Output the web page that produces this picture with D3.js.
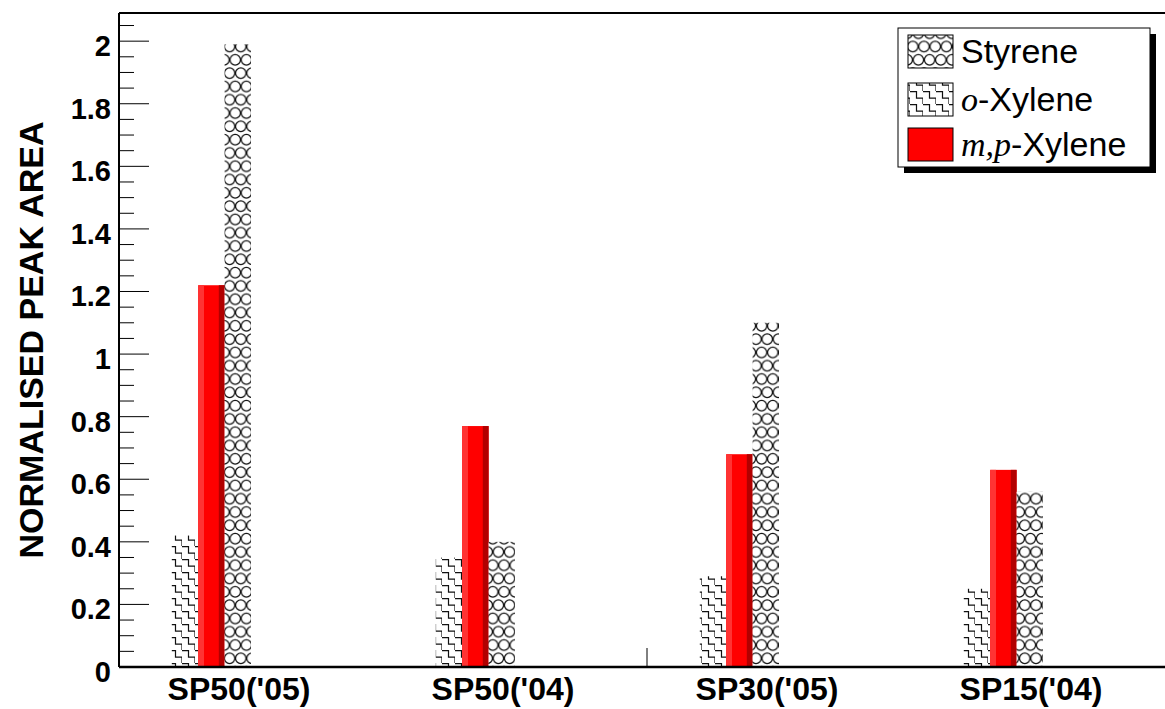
<!DOCTYPE html>
<html><head><meta charset="utf-8">
<script src="https://cdn.jsdelivr.net/npm/d3@7"></script>
<style>body{margin:0;background:#fff}svg{display:block}</style>
</head><body>
<svg id="c" width="1165" height="709"></svg>
<script>
const categories = ["SP50('05)", "SP50('04)", "SP30('05)", "SP15('04)"];
const oXylene  = [0.42, 0.35, 0.29, 0.25];
const mpXylene = [1.22, 0.77, 0.68, 0.63];
const styrene  = [1.99, 0.40, 1.10, 0.56];
const yMajor = [0, 0.2, 0.4, 0.6, 0.8, 1, 1.2, 1.4, 1.6, 1.8, 2];
const yLabels = ["0","0.2","0.4","0.6","0.8","1","1.2","1.4","1.6","1.8","2"];

const svg = d3.select("#c");
const L = 119, R = 1175, T = 13, B = 667;
const x = d3.scaleBand().domain(categories).range([L, R]).padding(0);
const y = d3.scaleLinear().domain([0, 2.09]).range([B, T]);
const bw = x.bandwidth();

const defs = svg.append("defs");
// circles pattern
const PW = 11.2, PH = 26.6, CR = 5.2;
const pc = defs.append("pattern").attr("id","circ").attr("patternUnits","userSpaceOnUse")
  .attr("width",PW).attr("height",PH);
pc.append("rect").attr("width",PW).attr("height",PH).attr("fill","#fff");
[[0,PH/4],[PW,PH/4],[PW/2,3*PH/4],[PW/2,-PH/4],[0,5*PH/4],[PW,5*PH/4]].forEach(([cx,cy])=>{
  pc.append("circle").attr("cx",cx).attr("cy",cy).attr("r",CR).attr("fill","none").attr("stroke","#111").attr("stroke-width",1.2);
});
// stairs pattern
const ps = defs.append("pattern").attr("id","stair").attr("patternUnits","userSpaceOnUse")
  .attr("width",13).attr("height",13);
ps.append("rect").attr("width",13).attr("height",13).attr("fill","#fff");
ps.append("path").attr("d","M-0.6,0.6 h7.1 v6.5 h6.5 v6.5")
  .attr("fill","none").attr("stroke","#111").attr("stroke-width",1.2);

// bars
const g = svg.append("g");
categories.forEach((c,i)=>{
  const x0 = x(c);
  g.append("rect").attr("x", x0 + 0.2*bw).attr("y", y(oXylene[i])).attr("width", 0.1*bw)
    .attr("height", y(0)-y(oXylene[i])).attr("fill","url(#stair)");
  const xr = x0 + 0.3*bw, wr = 0.1*bw, yt = y(mpXylene[i]), h = y(0)-yt;
  g.append("rect").attr("x", xr).attr("y", yt).attr("width", wr).attr("height", h).attr("fill","#ff0000");
  g.append("rect").attr("x", xr).attr("y", yt).attr("width", wr*0.22).attr("height", h).attr("fill","#ff3333");
  g.append("rect").attr("x", xr + wr*0.78).attr("y", yt).attr("width", wr*0.22).attr("height", h).attr("fill","#b20000");
  g.append("rect").attr("x", x0 + 0.4*bw).attr("y", y(styrene[i])).attr("width", 0.1*bw)
    .attr("height", y(0)-y(styrene[i])).attr("fill","url(#circ)");
});

// frame lines
svg.append("line").attr("x1",L).attr("x2",R).attr("y1",T).attr("y2",T).attr("stroke","#000").attr("stroke-width",2);
svg.append("line").attr("x1",L).attr("x2",L).attr("y1",T).attr("y2",B).attr("stroke","#000").attr("stroke-width",2);
svg.append("line").attr("x1",L).attr("x2",R).attr("y1",B).attr("y2",B).attr("stroke","#000").attr("stroke-width",2.5);

// y ticks
const minor = d3.range(0, 2.09, 0.05);
minor.forEach(v=>{
  const isMaj = Math.abs(v*5 - Math.round(v*5)) < 1e-6;
  svg.append("line").attr("x1",L).attr("x2",L + (isMaj?30:15)).attr("y1",y(v)).attr("y2",y(v))
    .attr("stroke","#000").attr("stroke-width",1);
});
yMajor.forEach((v,i)=>{
  svg.append("text").attr("x",111).attr("y",y(v)+15).attr("text-anchor","end")
    .attr("font-family","Liberation Sans, Arial, sans-serif").attr("font-weight","bold").attr("font-size",29)
    .text(yLabels[i]);
});
// x middle tick
svg.append("line").attr("x1",x(categories[2])).attr("x2",x(categories[2])).attr("y1",B).attr("y2",B-19).attr("stroke","#000").attr("stroke-width",1);

// x labels
categories.forEach(c=>{
  svg.append("text").attr("x",x(c)+bw/2 - 12).attr("y",700).attr("text-anchor","middle")
    .attr("font-family","Liberation Sans, Arial, sans-serif").attr("font-weight","bold").attr("font-size",32)
    .text(c);
});

// y title
svg.append("text").attr("transform","translate(43,340) rotate(-90)").attr("text-anchor","middle")
  .attr("font-family","Liberation Sans, Arial, sans-serif").attr("font-weight","bold").attr("font-size",34)
  .text("NORMALISED PEAK AREA");

// legend
const lg = svg.append("g");
lg.append("rect").attr("x",904).attr("y",34).attr("width",252).attr("height",139).attr("fill","#000");
lg.append("rect").attr("x",898).attr("y",28).attr("width",252).attr("height",139).attr("fill","#fff").attr("stroke","#000").attr("stroke-width",1);
const entries = [
  {fill:"url(#circ)", parts:[["Styrene",false]]},
  {fill:"url(#stair)", parts:[["o",true],["-Xylene",false]]},
  {fill:"#ff0000", parts:[["m,p",true],["-Xylene",false]]}
];
const rowsY = [51, 99, 144];
entries.forEach((e,i)=>{
  const cy = rowsY[i];
  lg.append("rect").attr("x",908).attr("y",cy-16).attr("width",45).attr("height",33)
    .attr("fill",e.fill).attr("stroke","#000").attr("stroke-width",1);
  const t = lg.append("text").attr("x",961).attr("y",cy+12)
    .attr("font-family","Liberation Sans, Arial, sans-serif").attr("font-size",34);
  e.parts.forEach(([s,it])=>{
    const sp = t.append("tspan").text(s);
    if(it) sp.attr("font-family","Liberation Serif, Times New Roman, serif").attr("font-style","italic");
  });
});
</script>
</body></html>
